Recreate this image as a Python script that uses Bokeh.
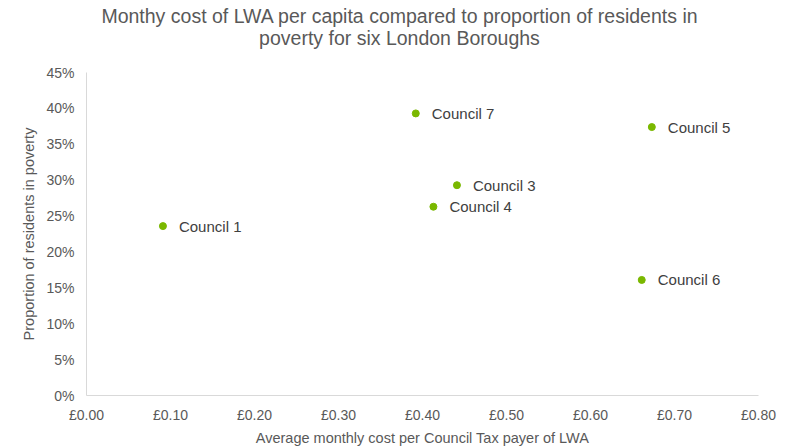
from bokeh.plotting import figure
from bokeh.models import (ColumnDataSource, Range1d, FixedTicker, NumeralTickFormatter,
                          CustomJSTickFormatter, LabelSet, Div)
from bokeh.layouts import column
from bokeh.core.properties import value
from bokeh.embed import file_html
from bokeh.resources import INLINE

councils = ["Council 1", "Council 7", "Council 5", "Council 3", "Council 4", "Council 6"]
monthly_cost = [0.091, 0.392, 0.673, 0.441, 0.413, 0.661]
poverty_share = [0.236, 0.393, 0.374, 0.293, 0.263, 0.161]
x_ticks = [0.0, 0.1, 0.2, 0.3, 0.4, 0.5, 0.6, 0.7, 0.8]
y_ticks = [0.0, 0.05, 0.10, 0.15, 0.20, 0.25, 0.30, 0.35, 0.40, 0.45]
title_lines = ["Monthy cost of LWA per capita compared to proportion of residents in",
               "poverty for six London Boroughs"]

FONT = "Liberation Sans"
GREY = "#595959"

src = ColumnDataSource(dict(x=monthly_cost, y=poverty_share, name=councils))

title_div = Div(
    text=('<div style="text-align:center;font-family:\'Liberation Sans\';font-size:19.5px;'
          'color:#595959;line-height:22px;padding-top:5px;width:799px;">'
          + "<br>".join(title_lines) + "</div>"),
    width=799, height=64, margin=(0, 0, 0, 0))

p = figure(width=799, height=384, output_backend="svg", toolbar_location=None,
           x_range=Range1d(0, 0.8), y_range=Range1d(0, 0.45),
           min_border_left=86, min_border_right=41, min_border_top=8, min_border_bottom=52,
           margin=(0, 0, 0, 0))
p.title = None
p.outline_line_color = None
p.background_fill_color = "white"
p.border_fill_color = "white"

p.xgrid.visible = False
p.ygrid.visible = False

for ax in (p.xaxis[0], p.yaxis[0]):
    ax.axis_line_color = "#d9d9d9"
    ax.axis_line_width = 1
    ax.major_tick_line_color = None
    ax.minor_tick_line_color = None
    ax.major_label_text_font = FONT
    ax.major_label_text_font_size = "14px"
    ax.major_label_text_color = GREY
    ax.axis_label_text_font = FONT
    ax.axis_label_text_font_size = "14.5px"
    ax.axis_label_text_font_style = "normal"
    ax.axis_label_text_color = GREY

p.xaxis.ticker = FixedTicker(ticks=x_ticks)
p.xaxis.formatter = CustomJSTickFormatter(code="return '\u00a3' + tick.toFixed(2);")
p.xaxis.axis_label = "Average monthly cost per Council Tax payer of LWA"
p.xaxis.major_label_standoff = 5
p.xaxis.axis_label_standoff = 4

p.yaxis.ticker = FixedTicker(ticks=y_ticks)
p.yaxis.formatter = NumeralTickFormatter(format="0%")
p.yaxis.axis_label = "Proportion of residents in poverty"
p.yaxis.major_label_standoff = 6
p.yaxis.axis_label_standoff = 6

p.scatter("x", "y", source=src, marker="circle", size=7,
          fill_color="#7ab800", line_color="#7ab800")

labels = LabelSet(x="x", y="y", text="name", source=src, x_offset=16, y_offset=0,
                  text_font=value(FONT), text_font_size="15px", text_color="#404040",
                  text_baseline="middle", text_align="left")
p.add_layout(labels)

layout = column(title_div, p, spacing=0, margin=(0, 0, 0, 0))

open("out.html", "w").write(file_html(layout, INLINE))
